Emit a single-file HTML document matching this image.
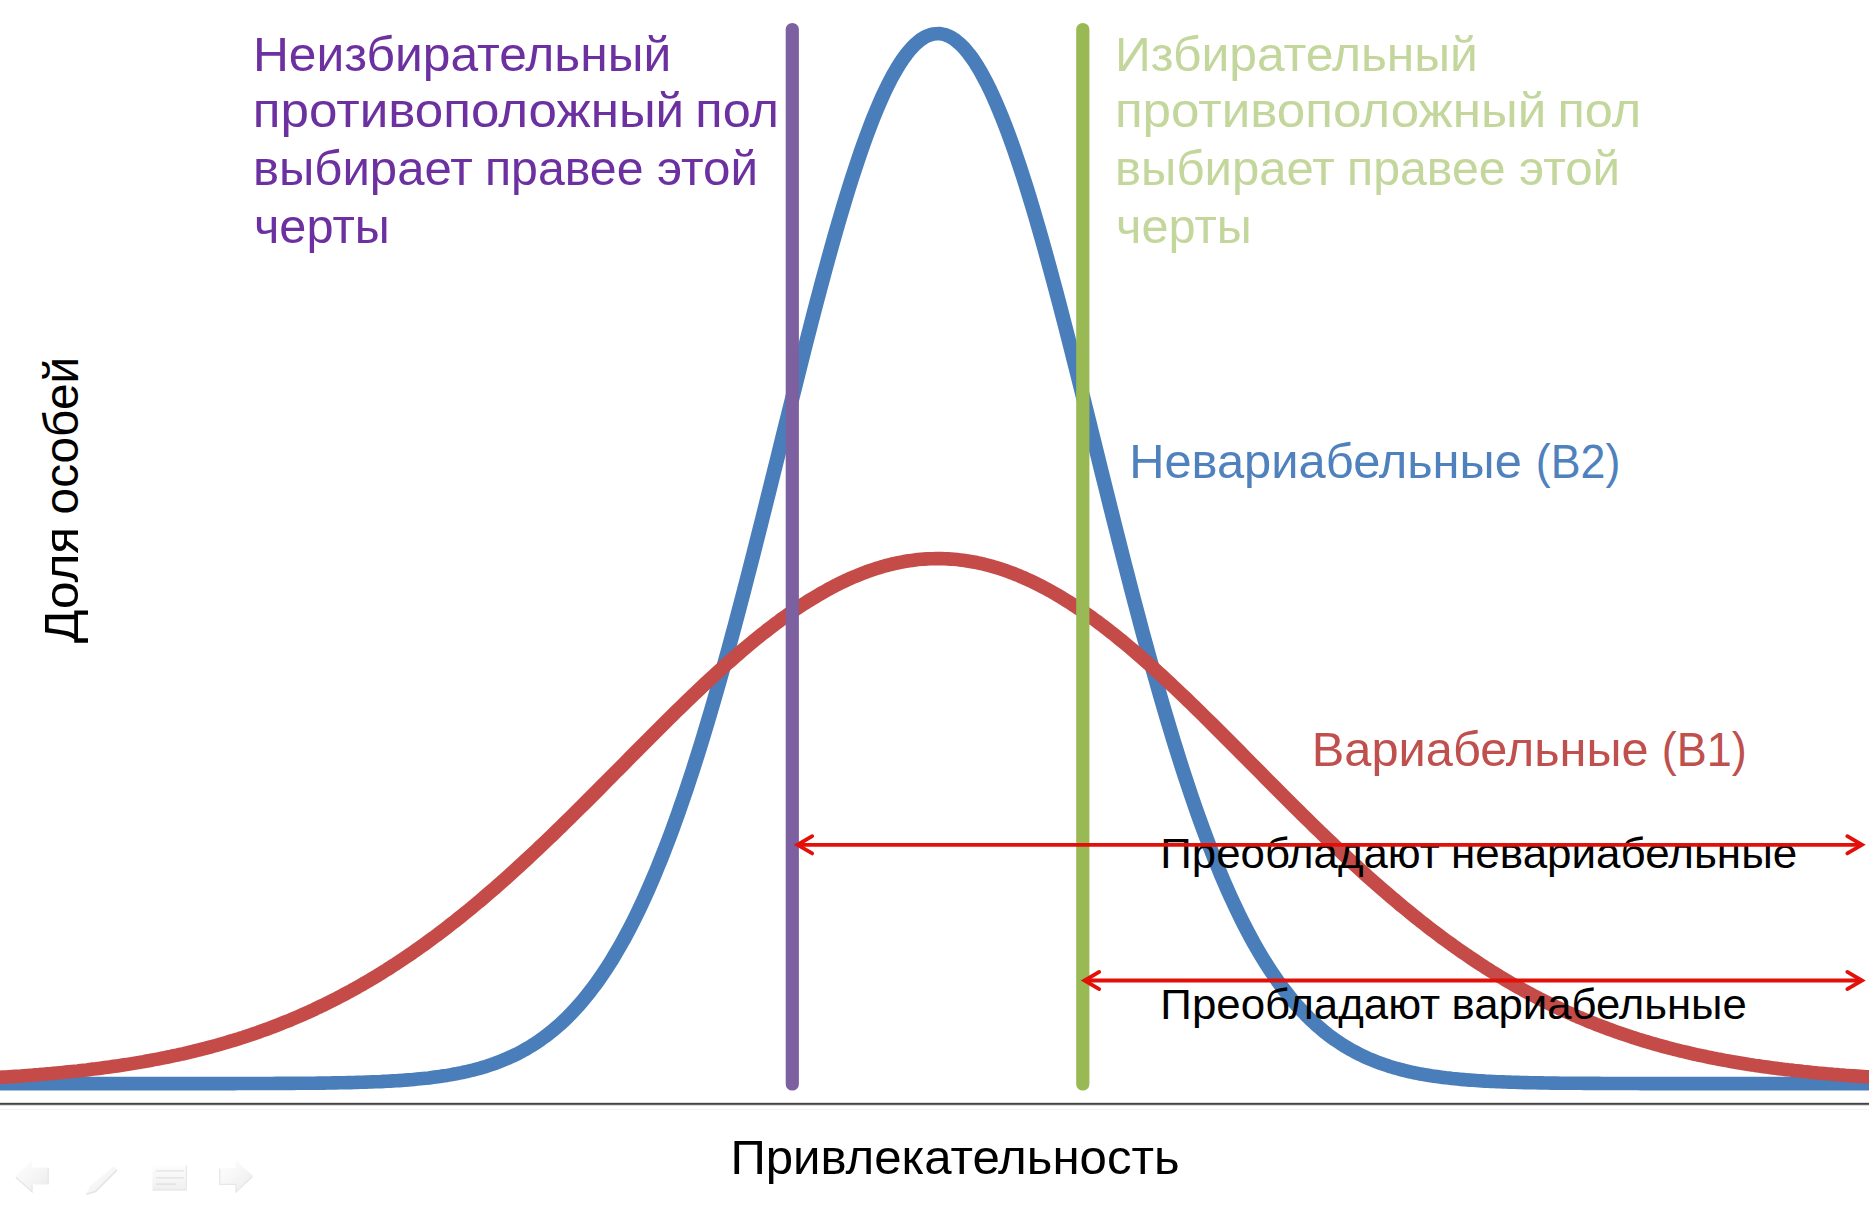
<!DOCTYPE html>
<html lang="ru"><head><meta charset="utf-8"><title>Привлекательность</title>
<style>html,body{margin:0;padding:0;background:#fff;overflow:hidden}svg{display:block}text{font-family:"Liberation Sans",sans-serif;white-space:pre}</style></head>
<body>
<svg width="1869" height="1215" viewBox="0 0 1869 1215">
<rect width="1869" height="1215" fill="#fff"/>
<rect x="0" y="1102.8" width="1869" height="2.1" fill="#454545"/>
<rect x="0" y="1104.9" width="1869" height="1" fill="#d8d8d8"/>
<rect x="0" y="1109" width="1869" height="1" fill="#f4f4f4"/>
<g transform="scale(1.07,1)" fill="none" stroke-width="13.6" stroke-linejoin="round">
<path d="M-14.02,1083.6 L-11.21,1083.6 L-8.41,1083.6 L-5.61,1083.6 L-2.80,1083.6 L0.00,1083.6 L2.80,1083.6 L5.61,1083.6 L8.41,1083.6 L11.21,1083.6 L14.02,1083.6 L16.82,1083.6 L19.63,1083.6 L22.43,1083.6 L25.23,1083.6 L28.04,1083.6 L30.84,1083.6 L33.64,1083.6 L36.45,1083.6 L39.25,1083.6 L42.06,1083.6 L44.86,1083.6 L47.66,1083.6 L50.47,1083.6 L53.27,1083.6 L56.07,1083.6 L58.88,1083.6 L61.68,1083.6 L64.49,1083.6 L67.29,1083.6 L70.09,1083.6 L72.90,1083.6 L75.70,1083.6 L78.50,1083.6 L81.31,1083.6 L84.11,1083.6 L86.92,1083.6 L89.72,1083.6 L92.52,1083.6 L95.33,1083.6 L98.13,1083.6 L100.93,1083.6 L103.74,1083.6 L106.54,1083.6 L109.35,1083.6 L112.15,1083.6 L114.95,1083.6 L117.76,1083.6 L120.56,1083.6 L123.36,1083.6 L126.17,1083.6 L128.97,1083.6 L131.78,1083.6 L134.58,1083.6 L137.38,1083.6 L140.19,1083.6 L142.99,1083.6 L145.79,1083.6 L148.60,1083.6 L151.40,1083.6 L154.21,1083.6 L157.01,1083.6 L159.81,1083.6 L162.62,1083.6 L165.42,1083.6 L168.22,1083.6 L171.03,1083.6 L173.83,1083.6 L176.64,1083.6 L179.44,1083.6 L182.24,1083.6 L185.05,1083.6 L187.85,1083.6 L190.65,1083.6 L193.46,1083.6 L196.26,1083.6 L199.07,1083.6 L201.87,1083.6 L204.67,1083.6 L207.48,1083.6 L210.28,1083.6 L213.08,1083.6 L215.89,1083.6 L218.69,1083.6 L221.50,1083.5 L224.30,1083.5 L227.10,1083.5 L229.91,1083.5 L232.71,1083.5 L235.51,1083.5 L238.32,1083.5 L241.12,1083.5 L243.93,1083.5 L246.73,1083.5 L249.53,1083.5 L252.34,1083.5 L255.14,1083.5 L257.94,1083.4 L260.75,1083.4 L263.55,1083.4 L266.36,1083.4 L269.16,1083.4 L271.96,1083.4 L274.77,1083.4 L277.57,1083.3 L280.37,1083.3 L283.18,1083.3 L285.98,1083.3 L288.79,1083.2 L291.59,1083.2 L294.39,1083.2 L297.20,1083.1 L300.00,1083.1 L302.80,1083.1 L305.61,1083.0 L308.41,1083.0 L311.21,1082.9 L314.02,1082.9 L316.82,1082.8 L319.63,1082.8 L322.43,1082.7 L325.23,1082.6 L328.04,1082.6 L330.84,1082.5 L333.64,1082.4 L336.45,1082.3 L339.25,1082.2 L342.06,1082.1 L344.86,1082.0 L347.66,1081.9 L350.47,1081.8 L353.27,1081.7 L356.07,1081.6 L358.88,1081.4 L361.68,1081.3 L364.49,1081.1 L367.29,1080.9 L370.09,1080.8 L372.90,1080.6 L375.70,1080.4 L378.50,1080.1 L381.31,1079.9 L384.11,1079.7 L386.92,1079.4 L389.72,1079.1 L392.52,1078.8 L395.33,1078.5 L398.13,1078.2 L400.93,1077.9 L403.74,1077.5 L406.54,1077.1 L409.35,1076.7 L412.15,1076.3 L414.95,1075.8 L417.76,1075.4 L420.56,1074.9 L423.36,1074.3 L426.17,1073.8 L428.97,1073.2 L431.78,1072.6 L434.58,1071.9 L437.38,1071.3 L440.19,1070.5 L442.99,1069.8 L445.79,1069.0 L448.60,1068.2 L451.40,1067.3 L454.21,1066.4 L457.01,1065.4 L459.81,1064.4 L462.62,1063.3 L465.42,1062.2 L468.22,1061.0 L471.03,1059.8 L473.83,1058.6 L476.64,1057.2 L479.44,1055.8 L482.24,1054.4 L485.05,1052.9 L487.85,1051.3 L490.65,1049.6 L493.46,1047.9 L496.26,1046.1 L499.07,1044.2 L501.87,1042.2 L504.67,1040.2 L507.48,1038.0 L510.28,1035.8 L513.08,1033.5 L515.89,1031.1 L518.69,1028.6 L521.50,1026.0 L524.30,1023.4 L527.10,1020.6 L529.91,1017.7 L532.71,1014.7 L535.51,1011.5 L538.32,1008.3 L541.12,1005.0 L543.93,1001.5 L546.73,997.9 L549.53,994.2 L552.34,990.3 L555.14,986.4 L557.94,982.3 L560.75,978.0 L563.55,973.6 L566.36,969.1 L569.16,964.5 L571.96,959.7 L574.77,954.7 L577.57,949.6 L580.37,944.4 L583.18,939.0 L585.98,933.4 L588.79,927.7 L591.59,921.8 L594.39,915.8 L597.20,909.6 L600.00,903.2 L602.80,896.7 L605.61,890.0 L608.41,883.1 L611.21,876.1 L614.02,868.9 L616.82,861.5 L619.63,854.0 L622.43,846.3 L625.23,838.4 L628.04,830.4 L630.84,822.1 L633.64,813.8 L636.45,805.2 L639.25,796.5 L642.06,787.6 L644.86,778.6 L647.66,769.4 L650.47,760.0 L653.27,750.5 L656.07,740.8 L658.88,730.9 L661.68,720.9 L664.49,710.8 L667.29,700.5 L670.09,690.1 L672.90,679.5 L675.70,668.8 L678.50,658.0 L681.31,647.1 L684.11,636.0 L686.92,624.8 L689.72,613.5 L692.52,602.1 L695.33,590.6 L698.13,579.0 L700.93,567.4 L703.74,555.6 L706.54,543.8 L709.35,531.9 L712.15,520.0 L714.95,508.0 L717.76,495.9 L720.56,483.9 L723.36,471.8 L726.17,459.7 L728.97,447.6 L731.78,435.4 L734.58,423.3 L737.38,411.2 L740.19,399.2 L742.99,387.1 L745.79,375.1 L748.60,363.2 L751.40,351.3 L754.21,339.5 L757.01,327.8 L759.81,316.2 L762.62,304.7 L765.42,293.3 L768.22,282.0 L771.03,270.9 L773.83,259.9 L776.64,249.0 L779.44,238.3 L782.24,227.8 L785.05,217.5 L787.85,207.4 L790.65,197.4 L793.46,187.7 L796.26,178.2 L799.07,169.0 L801.87,159.9 L804.67,151.2 L807.48,142.6 L810.28,134.4 L813.08,126.4 L815.89,118.7 L818.69,111.3 L821.50,104.2 L824.30,97.4 L827.10,90.9 L829.91,84.7 L832.71,78.9 L835.51,73.4 L838.32,68.2 L841.12,63.4 L843.93,58.9 L846.73,54.8 L849.53,51.0 L852.34,47.6 L855.14,44.5 L857.94,41.9 L860.75,39.5 L863.55,37.6 L866.36,36.1 L869.16,34.9 L871.96,34.1 L874.77,33.7 L877.57,33.6 L880.37,34.0 L883.18,34.7 L885.98,35.8 L888.79,37.3 L891.59,39.1 L894.39,41.4 L897.20,44.0 L900.00,46.9 L902.80,50.3 L905.61,54.0 L908.41,58.0 L911.21,62.4 L914.02,67.2 L916.82,72.3 L919.63,77.8 L922.43,83.5 L925.23,89.6 L928.04,96.1 L930.84,102.8 L933.64,109.9 L936.45,117.2 L939.25,124.8 L942.06,132.8 L944.86,141.0 L947.66,149.4 L950.47,158.2 L953.27,167.1 L956.07,176.4 L958.88,185.8 L961.68,195.5 L964.49,205.4 L967.29,215.5 L970.09,225.7 L972.90,236.2 L975.70,246.9 L978.50,257.7 L981.31,268.7 L984.11,279.8 L986.92,291.0 L989.72,302.4 L992.52,313.9 L995.33,325.5 L998.13,337.2 L1000.93,349.0 L1003.74,360.8 L1006.54,372.7 L1009.35,384.7 L1012.15,396.7 L1014.95,408.8 L1017.76,420.9 L1020.56,433.0 L1023.36,445.1 L1026.17,457.2 L1028.97,469.4 L1031.78,481.5 L1034.58,493.5 L1037.38,505.6 L1040.19,517.6 L1042.99,529.5 L1045.79,541.4 L1048.60,553.3 L1051.40,565.0 L1054.21,576.7 L1057.01,588.3 L1059.81,599.8 L1062.62,611.2 L1065.42,622.5 L1068.22,633.8 L1071.03,644.8 L1073.83,655.8 L1076.64,666.7 L1079.44,677.4 L1082.24,688.0 L1085.05,698.4 L1087.85,708.7 L1090.65,718.9 L1093.46,728.9 L1096.26,738.8 L1099.07,748.5 L1101.87,758.1 L1104.67,767.5 L1107.48,776.7 L1110.28,785.8 L1113.08,794.7 L1115.89,803.5 L1118.69,812.1 L1121.50,820.5 L1124.30,828.7 L1127.10,836.8 L1129.91,844.7 L1132.71,852.5 L1135.51,860.0 L1138.32,867.4 L1141.12,874.7 L1143.93,881.7 L1146.73,888.6 L1149.53,895.3 L1152.34,901.9 L1155.14,908.3 L1157.94,914.5 L1160.75,920.6 L1163.55,926.5 L1166.36,932.3 L1169.16,937.9 L1171.96,943.3 L1174.77,948.6 L1177.57,953.7 L1180.37,958.7 L1183.18,963.5 L1185.98,968.2 L1188.79,972.8 L1191.59,977.2 L1194.39,981.4 L1197.20,985.6 L1200.00,989.6 L1202.80,993.4 L1205.61,997.2 L1208.41,1000.8 L1211.21,1004.3 L1214.02,1007.6 L1216.82,1010.9 L1219.63,1014.0 L1222.43,1017.1 L1225.23,1020.0 L1228.04,1022.8 L1230.84,1025.5 L1233.64,1028.1 L1236.45,1030.6 L1239.25,1033.1 L1242.06,1035.4 L1244.86,1037.6 L1247.66,1039.8 L1250.47,1041.8 L1253.27,1043.8 L1256.07,1045.7 L1258.88,1047.5 L1261.68,1049.3 L1264.49,1050.9 L1267.29,1052.5 L1270.09,1054.1 L1272.90,1055.5 L1275.70,1057.0 L1278.50,1058.3 L1281.31,1059.6 L1284.11,1060.8 L1286.92,1062.0 L1289.72,1063.1 L1292.52,1064.2 L1295.33,1065.2 L1298.13,1066.2 L1300.93,1067.1 L1303.74,1068.0 L1306.54,1068.8 L1309.35,1069.6 L1312.15,1070.4 L1314.95,1071.1 L1317.76,1071.8 L1320.56,1072.5 L1323.36,1073.1 L1326.17,1073.7 L1328.97,1074.2 L1331.78,1074.8 L1334.58,1075.3 L1337.38,1075.8 L1340.19,1076.2 L1342.99,1076.6 L1345.79,1077.0 L1348.60,1077.4 L1351.40,1077.8 L1354.21,1078.1 L1357.01,1078.5 L1359.81,1078.8 L1362.62,1079.1 L1365.42,1079.4 L1368.22,1079.6 L1371.03,1079.9 L1373.83,1080.1 L1376.64,1080.3 L1379.44,1080.5 L1382.24,1080.7 L1385.05,1080.9 L1387.85,1081.1 L1390.65,1081.2 L1393.46,1081.4 L1396.26,1081.5 L1399.07,1081.7 L1401.87,1081.8 L1404.67,1081.9 L1407.48,1082.0 L1410.28,1082.1 L1413.08,1082.2 L1415.89,1082.3 L1418.69,1082.4 L1421.50,1082.5 L1424.30,1082.6 L1427.10,1082.6 L1429.91,1082.7 L1432.71,1082.8 L1435.51,1082.8 L1438.32,1082.9 L1441.12,1082.9 L1443.93,1083.0 L1446.73,1083.0 L1449.53,1083.1 L1452.34,1083.1 L1455.14,1083.1 L1457.94,1083.2 L1460.75,1083.2 L1463.55,1083.2 L1466.36,1083.3 L1469.16,1083.3 L1471.96,1083.3 L1474.77,1083.3 L1477.57,1083.3 L1480.37,1083.4 L1483.18,1083.4 L1485.98,1083.4 L1488.79,1083.4 L1491.59,1083.4 L1494.39,1083.4 L1497.20,1083.5 L1500.00,1083.5 L1502.80,1083.5 L1505.61,1083.5 L1508.41,1083.5 L1511.21,1083.5 L1514.02,1083.5 L1516.82,1083.5 L1519.63,1083.5 L1522.43,1083.5 L1525.23,1083.5 L1528.04,1083.5 L1530.84,1083.5 L1533.64,1083.6 L1536.45,1083.6 L1539.25,1083.6 L1542.06,1083.6 L1544.86,1083.6 L1547.66,1083.6 L1550.47,1083.6 L1553.27,1083.6 L1556.07,1083.6 L1558.88,1083.6 L1561.68,1083.6 L1564.49,1083.6 L1567.29,1083.6 L1570.09,1083.6 L1572.90,1083.6 L1575.70,1083.6 L1578.50,1083.6 L1581.31,1083.6 L1584.11,1083.6 L1586.92,1083.6 L1589.72,1083.6 L1592.52,1083.6 L1595.33,1083.6 L1598.13,1083.6 L1600.93,1083.6 L1603.74,1083.6 L1606.54,1083.6 L1609.35,1083.6 L1612.15,1083.6 L1614.95,1083.6 L1617.76,1083.6 L1620.56,1083.6 L1623.36,1083.6 L1626.17,1083.6 L1628.97,1083.6 L1631.78,1083.6 L1634.58,1083.6 L1637.38,1083.6 L1640.19,1083.6 L1642.99,1083.6 L1645.79,1083.6 L1648.60,1083.6 L1651.40,1083.6 L1654.21,1083.6 L1657.01,1083.6 L1659.81,1083.6 L1662.62,1083.6 L1665.42,1083.6 L1668.22,1083.6 L1671.03,1083.6 L1673.83,1083.6 L1676.64,1083.6 L1679.44,1083.6 L1682.24,1083.6 L1685.05,1083.6 L1687.85,1083.6 L1690.65,1083.6 L1693.46,1083.6 L1696.26,1083.6 L1699.07,1083.6 L1701.87,1083.6 L1704.67,1083.6 L1707.48,1083.6 L1710.28,1083.6 L1713.08,1083.6 L1715.89,1083.6 L1718.69,1083.6 L1721.50,1083.6 L1724.30,1083.6 L1727.10,1083.6 L1729.91,1083.6 L1732.71,1083.6 L1735.51,1083.6 L1738.32,1083.6 L1741.12,1083.6 L1743.93,1083.6 L1746.73,1083.6 L1749.53,1083.6 L1752.34,1083.6 L1755.14,1083.6 L1757.94,1083.6 L1760.75,1083.6" stroke="#4A7EBB"/>
<path d="M-14.02,1078.2 L-11.21,1078.0 L-8.41,1077.8 L-5.61,1077.7 L-2.80,1077.5 L0.00,1077.3 L2.80,1077.1 L5.61,1077.0 L8.41,1076.8 L11.21,1076.6 L14.02,1076.4 L16.82,1076.2 L19.63,1076.0 L22.43,1075.7 L25.23,1075.5 L28.04,1075.3 L30.84,1075.1 L33.64,1074.8 L36.45,1074.6 L39.25,1074.3 L42.06,1074.1 L44.86,1073.8 L47.66,1073.6 L50.47,1073.3 L53.27,1073.0 L56.07,1072.7 L58.88,1072.4 L61.68,1072.1 L64.49,1071.8 L67.29,1071.5 L70.09,1071.2 L72.90,1070.9 L75.70,1070.5 L78.50,1070.2 L81.31,1069.9 L84.11,1069.5 L86.92,1069.1 L89.72,1068.8 L92.52,1068.4 L95.33,1068.0 L98.13,1067.6 L100.93,1067.2 L103.74,1066.8 L106.54,1066.3 L109.35,1065.9 L112.15,1065.5 L114.95,1065.0 L117.76,1064.6 L120.56,1064.1 L123.36,1063.6 L126.17,1063.1 L128.97,1062.6 L131.78,1062.1 L134.58,1061.6 L137.38,1061.0 L140.19,1060.5 L142.99,1059.9 L145.79,1059.4 L148.60,1058.8 L151.40,1058.2 L154.21,1057.6 L157.01,1057.0 L159.81,1056.4 L162.62,1055.7 L165.42,1055.1 L168.22,1054.4 L171.03,1053.8 L173.83,1053.1 L176.64,1052.4 L179.44,1051.7 L182.24,1050.9 L185.05,1050.2 L187.85,1049.4 L190.65,1048.7 L193.46,1047.9 L196.26,1047.1 L199.07,1046.3 L201.87,1045.5 L204.67,1044.6 L207.48,1043.8 L210.28,1042.9 L213.08,1042.0 L215.89,1041.1 L218.69,1040.2 L221.50,1039.3 L224.30,1038.3 L227.10,1037.4 L229.91,1036.4 L232.71,1035.4 L235.51,1034.4 L238.32,1033.3 L241.12,1032.3 L243.93,1031.2 L246.73,1030.2 L249.53,1029.1 L252.34,1028.0 L255.14,1026.8 L257.94,1025.7 L260.75,1024.5 L263.55,1023.3 L266.36,1022.1 L269.16,1020.9 L271.96,1019.7 L274.77,1018.4 L277.57,1017.1 L280.37,1015.8 L283.18,1014.5 L285.98,1013.2 L288.79,1011.8 L291.59,1010.5 L294.39,1009.1 L297.20,1007.6 L300.00,1006.2 L302.80,1004.8 L305.61,1003.3 L308.41,1001.8 L311.21,1000.3 L314.02,998.8 L316.82,997.2 L319.63,995.6 L322.43,994.0 L325.23,992.4 L328.04,990.8 L330.84,989.1 L333.64,987.5 L336.45,985.8 L339.25,984.1 L342.06,982.3 L344.86,980.6 L347.66,978.8 L350.47,977.0 L353.27,975.2 L356.07,973.3 L358.88,971.4 L361.68,969.6 L364.49,967.6 L367.29,965.7 L370.09,963.8 L372.90,961.8 L375.70,959.8 L378.50,957.8 L381.31,955.8 L384.11,953.7 L386.92,951.6 L389.72,949.5 L392.52,947.4 L395.33,945.3 L398.13,943.1 L400.93,940.9 L403.74,938.7 L406.54,936.5 L409.35,934.3 L412.15,932.0 L414.95,929.7 L417.76,927.4 L420.56,925.1 L423.36,922.7 L426.17,920.4 L428.97,918.0 L431.78,915.6 L434.58,913.2 L437.38,910.7 L440.19,908.3 L442.99,905.8 L445.79,903.3 L448.60,900.8 L451.40,898.2 L454.21,895.7 L457.01,893.1 L459.81,890.5 L462.62,887.9 L465.42,885.3 L468.22,882.6 L471.03,880.0 L473.83,877.3 L476.64,874.6 L479.44,871.9 L482.24,869.2 L485.05,866.4 L487.85,863.7 L490.65,860.9 L493.46,858.1 L496.26,855.3 L499.07,852.5 L501.87,849.7 L504.67,846.8 L507.48,844.0 L510.28,841.1 L513.08,838.3 L515.89,835.4 L518.69,832.5 L521.50,829.6 L524.30,826.7 L527.10,823.7 L529.91,820.8 L532.71,817.8 L535.51,814.9 L538.32,811.9 L541.12,808.9 L543.93,806.0 L546.73,803.0 L549.53,800.0 L552.34,797.0 L555.14,794.0 L557.94,791.0 L560.75,788.0 L563.55,784.9 L566.36,781.9 L569.16,778.9 L571.96,775.9 L574.77,772.8 L577.57,769.8 L580.37,766.8 L583.18,763.8 L585.98,760.7 L588.79,757.7 L591.59,754.7 L594.39,751.6 L597.20,748.6 L600.00,745.6 L602.80,742.6 L605.61,739.6 L608.41,736.6 L611.21,733.6 L614.02,730.6 L616.82,727.6 L619.63,724.6 L622.43,721.6 L625.23,718.6 L628.04,715.7 L630.84,712.7 L633.64,709.8 L636.45,706.9 L639.25,704.0 L642.06,701.1 L644.86,698.2 L647.66,695.3 L650.47,692.4 L653.27,689.6 L656.07,686.7 L658.88,683.9 L661.68,681.1 L664.49,678.3 L667.29,675.6 L670.09,672.8 L672.90,670.1 L675.70,667.4 L678.50,664.7 L681.31,662.0 L684.11,659.4 L686.92,656.8 L689.72,654.2 L692.52,651.6 L695.33,649.0 L698.13,646.5 L700.93,644.0 L703.74,641.5 L706.54,639.0 L709.35,636.6 L712.15,634.2 L714.95,631.9 L717.76,629.5 L720.56,627.2 L723.36,624.9 L726.17,622.7 L728.97,620.4 L731.78,618.2 L734.58,616.1 L737.38,614.0 L740.19,611.9 L742.99,609.8 L745.79,607.8 L748.60,605.8 L751.40,603.8 L754.21,601.9 L757.01,600.0 L759.81,598.2 L762.62,596.4 L765.42,594.6 L768.22,592.9 L771.03,591.2 L773.83,589.5 L776.64,587.9 L779.44,586.3 L782.24,584.8 L785.05,583.3 L787.85,581.8 L790.65,580.4 L793.46,579.0 L796.26,577.7 L799.07,576.4 L801.87,575.2 L804.67,574.0 L807.48,572.8 L810.28,571.7 L813.08,570.6 L815.89,569.6 L818.69,568.6 L821.50,567.7 L824.30,566.8 L827.10,565.9 L829.91,565.1 L832.71,564.4 L835.51,563.6 L838.32,563.0 L841.12,562.4 L843.93,561.8 L846.73,561.3 L849.53,560.8 L852.34,560.4 L855.14,560.0 L857.94,559.6 L860.75,559.3 L863.55,559.1 L866.36,558.9 L869.16,558.8 L871.96,558.7 L874.77,558.6 L877.57,558.6 L880.37,558.6 L883.18,558.7 L885.98,558.9 L888.79,559.1 L891.59,559.3 L894.39,559.6 L897.20,559.9 L900.00,560.3 L902.80,560.7 L905.61,561.2 L908.41,561.7 L911.21,562.2 L914.02,562.9 L916.82,563.5 L919.63,564.2 L922.43,565.0 L925.23,565.8 L928.04,566.6 L930.84,567.5 L933.64,568.4 L936.45,569.4 L939.25,570.4 L942.06,571.5 L944.86,572.6 L947.66,573.7 L950.47,574.9 L953.27,576.2 L956.07,577.4 L958.88,578.8 L961.68,580.1 L964.49,581.5 L967.29,583.0 L970.09,584.5 L972.90,586.0 L975.70,587.6 L978.50,589.2 L981.31,590.8 L984.11,592.5 L986.92,594.2 L989.72,596.0 L992.52,597.8 L995.33,599.7 L998.13,601.5 L1000.93,603.4 L1003.74,605.4 L1006.54,607.4 L1009.35,609.4 L1012.15,611.5 L1014.95,613.5 L1017.76,615.7 L1020.56,617.8 L1023.36,620.0 L1026.17,622.2 L1028.97,624.5 L1031.78,626.7 L1034.58,629.0 L1037.38,631.4 L1040.19,633.7 L1042.99,636.1 L1045.79,638.6 L1048.60,641.0 L1051.40,643.5 L1054.21,646.0 L1057.01,648.5 L1059.81,651.1 L1062.62,653.6 L1065.42,656.2 L1068.22,658.9 L1071.03,661.5 L1073.83,664.2 L1076.64,666.8 L1079.44,669.6 L1082.24,672.3 L1085.05,675.0 L1087.85,677.8 L1090.65,680.6 L1093.46,683.4 L1096.26,686.2 L1099.07,689.0 L1101.87,691.9 L1104.67,694.7 L1107.48,697.6 L1110.28,700.5 L1113.08,703.4 L1115.89,706.3 L1118.69,709.2 L1121.50,712.2 L1124.30,715.1 L1127.10,718.1 L1129.91,721.0 L1132.71,724.0 L1135.51,727.0 L1138.32,730.0 L1141.12,733.0 L1143.93,736.0 L1146.73,739.0 L1149.53,742.0 L1152.34,745.0 L1155.14,748.0 L1157.94,751.0 L1160.75,754.1 L1163.55,757.1 L1166.36,760.1 L1169.16,763.2 L1171.96,766.2 L1174.77,769.2 L1177.57,772.2 L1180.37,775.3 L1183.18,778.3 L1185.98,781.3 L1188.79,784.3 L1191.59,787.4 L1194.39,790.4 L1197.20,793.4 L1200.00,796.4 L1202.80,799.4 L1205.61,802.4 L1208.41,805.4 L1211.21,808.4 L1214.02,811.3 L1216.82,814.3 L1219.63,817.2 L1222.43,820.2 L1225.23,823.1 L1228.04,826.1 L1230.84,829.0 L1233.64,831.9 L1236.45,834.8 L1239.25,837.7 L1242.06,840.6 L1244.86,843.4 L1247.66,846.3 L1250.47,849.1 L1253.27,851.9 L1256.07,854.8 L1258.88,857.6 L1261.68,860.3 L1264.49,863.1 L1267.29,865.9 L1270.09,868.6 L1272.90,871.3 L1275.70,874.1 L1278.50,876.8 L1281.31,879.4 L1284.11,882.1 L1286.92,884.7 L1289.72,887.4 L1292.52,890.0 L1295.33,892.6 L1298.13,895.1 L1300.93,897.7 L1303.74,900.2 L1306.54,902.8 L1309.35,905.3 L1312.15,907.8 L1314.95,910.2 L1317.76,912.7 L1320.56,915.1 L1323.36,917.5 L1326.17,919.9 L1328.97,922.3 L1331.78,924.6 L1334.58,926.9 L1337.38,929.3 L1340.19,931.5 L1342.99,933.8 L1345.79,936.1 L1348.60,938.3 L1351.40,940.5 L1354.21,942.7 L1357.01,944.8 L1359.81,947.0 L1362.62,949.1 L1365.42,951.2 L1368.22,953.3 L1371.03,955.3 L1373.83,957.4 L1376.64,959.4 L1379.44,961.4 L1382.24,963.4 L1385.05,965.3 L1387.85,967.3 L1390.65,969.2 L1393.46,971.1 L1396.26,972.9 L1399.07,974.8 L1401.87,976.6 L1404.67,978.4 L1407.48,980.2 L1410.28,982.0 L1413.08,983.7 L1415.89,985.4 L1418.69,987.1 L1421.50,988.8 L1424.30,990.5 L1427.10,992.1 L1429.91,993.7 L1432.71,995.3 L1435.51,996.9 L1438.32,998.5 L1441.12,1000.0 L1443.93,1001.5 L1446.73,1003.0 L1449.53,1004.5 L1452.34,1005.9 L1455.14,1007.4 L1457.94,1008.8 L1460.75,1010.2 L1463.55,1011.6 L1466.36,1012.9 L1469.16,1014.2 L1471.96,1015.6 L1474.77,1016.9 L1477.57,1018.1 L1480.37,1019.4 L1483.18,1020.7 L1485.98,1021.9 L1488.79,1023.1 L1491.59,1024.3 L1494.39,1025.4 L1497.20,1026.6 L1500.00,1027.7 L1502.80,1028.8 L1505.61,1029.9 L1508.41,1031.0 L1511.21,1032.1 L1514.02,1033.1 L1516.82,1034.2 L1519.63,1035.2 L1522.43,1036.2 L1525.23,1037.2 L1528.04,1038.1 L1530.84,1039.1 L1533.64,1040.0 L1536.45,1040.9 L1539.25,1041.8 L1542.06,1042.7 L1544.86,1043.6 L1547.66,1044.4 L1550.47,1045.3 L1553.27,1046.1 L1556.07,1046.9 L1558.88,1047.7 L1561.68,1048.5 L1564.49,1049.3 L1567.29,1050.0 L1570.09,1050.8 L1572.90,1051.5 L1575.70,1052.2 L1578.50,1052.9 L1581.31,1053.6 L1584.11,1054.3 L1586.92,1055.0 L1589.72,1055.6 L1592.52,1056.2 L1595.33,1056.9 L1598.13,1057.5 L1600.93,1058.1 L1603.74,1058.7 L1606.54,1059.3 L1609.35,1059.8 L1612.15,1060.4 L1614.95,1060.9 L1617.76,1061.5 L1620.56,1062.0 L1623.36,1062.5 L1626.17,1063.0 L1628.97,1063.5 L1631.78,1064.0 L1634.58,1064.5 L1637.38,1064.9 L1640.19,1065.4 L1642.99,1065.8 L1645.79,1066.3 L1648.60,1066.7 L1651.40,1067.1 L1654.21,1067.5 L1657.01,1067.9 L1659.81,1068.3 L1662.62,1068.7 L1665.42,1069.1 L1668.22,1069.4 L1671.03,1069.8 L1673.83,1070.1 L1676.64,1070.5 L1679.44,1070.8 L1682.24,1071.1 L1685.05,1071.5 L1687.85,1071.8 L1690.65,1072.1 L1693.46,1072.4 L1696.26,1072.7 L1699.07,1073.0 L1701.87,1073.2 L1704.67,1073.5 L1707.48,1073.8 L1710.28,1074.0 L1713.08,1074.3 L1715.89,1074.5 L1718.69,1074.8 L1721.50,1075.0 L1724.30,1075.3 L1727.10,1075.5 L1729.91,1075.7 L1732.71,1075.9 L1735.51,1076.1 L1738.32,1076.3 L1741.12,1076.5 L1743.93,1076.7 L1746.73,1076.9 L1749.53,1077.1 L1752.34,1077.3 L1755.14,1077.5 L1757.94,1077.6 L1760.75,1077.8" stroke="#C44B47"/>
</g>
<line x1="792.3" y1="29.5" x2="792.3" y2="1084" stroke="#7D60A0" stroke-width="13.2" stroke-linecap="round"/>
<line x1="1082.8" y1="29.5" x2="1082.8" y2="1084" stroke="#98B954" stroke-width="13.2" stroke-linecap="round"/>
<text transform="translate(252.89,70.5) scale(1.0368,1)" font-size="48" fill="#6C30A0">Неизбирательный</text>
<text transform="translate(252.80,127.4) scale(1.0653,1)" font-size="48" fill="#6C30A0">противоположный</text>
<text transform="translate(695.35,127.4) scale(1.0512,1)" font-size="48" fill="#6C30A0">пол</text>
<text transform="translate(252.93,184.7) scale(1.0232,1)" font-size="48" fill="#6C30A0">выбирает</text>
<text transform="translate(484.99,184.7) scale(1.0050,1)" font-size="48" fill="#6C30A0">правее</text>
<text transform="translate(656.97,184.7) scale(1.0277,1)" font-size="48" fill="#6C30A0">этой</text>
<text transform="translate(253.97,242.8) scale(1.0145,1)" font-size="48" fill="#6C30A0">черты</text>
<text transform="translate(1114.99,70.5) scale(1.0372,1)" font-size="48" fill="#C3D69B">Избирательный</text>
<text transform="translate(1114.90,127.4) scale(1.0653,1)" font-size="48" fill="#C3D69B">противоположный</text>
<text transform="translate(1557.45,127.4) scale(1.0512,1)" font-size="48" fill="#C3D69B">пол</text>
<text transform="translate(1115.03,184.7) scale(1.0232,1)" font-size="48" fill="#C3D69B">выбирает</text>
<text transform="translate(1347.09,184.7) scale(1.0050,1)" font-size="48" fill="#C3D69B">правее</text>
<text transform="translate(1519.07,184.7) scale(1.0277,1)" font-size="48" fill="#C3D69B">этой</text>
<text transform="translate(1116.07,242.8) scale(1.0145,1)" font-size="48" fill="#C3D69B">черты</text>
<text transform="translate(1129.15,478.4) scale(1.0178,1)" font-size="48" fill="#4F81BD">Невариабельные</text>
<text transform="translate(1535.73,478.4) scale(0.9332,1)" font-size="48" fill="#4F81BD">(В2)</text>
<text transform="translate(1311.85,765.5) scale(1.0156,1)" font-size="48" fill="#C0504D">Вариабельные</text>
<text transform="translate(1661.82,765.5) scale(0.9378,1)" font-size="48" fill="#C0504D">(В1)</text>
<text transform="translate(1160.37,867.7) scale(1.0429,1)" font-size="42" fill="#000000">Преобладают</text>
<text transform="translate(1451.01,867.7) scale(1.0472,1)" font-size="42" fill="#000000">невариабельные</text>
<text transform="translate(1160.37,1019.4) scale(1.0444,1)" font-size="42" fill="#000000">Преобладают</text>
<text transform="translate(1451.52,1019.4) scale(1.0399,1)" font-size="42" fill="#000000">вариабельные</text>
<text transform="translate(730.43,1174) scale(1.0245,1)" font-size="48" fill="#000000">Привлекательность</text>
<text transform="translate(78.4,643.00) rotate(-90) scale(1.0301,1)" font-size="48" fill="#000">Доля</text>
<text transform="translate(78.4,514.39) rotate(-90) scale(0.9943,1)" font-size="48" fill="#000">особей</text>
<g fill="none" stroke="#E3100A" stroke-width="3.8" stroke-linecap="round" stroke-linejoin="miter"><line x1="797.5" y1="844.8" x2="1862.0" y2="844.8" stroke-linecap="butt"/><polyline points="812.2,836.2 797.5,844.8 812.2,853.4"/><polyline points="1847.3,836.2 1862.0,844.8 1847.3,853.4"/></g>
<g fill="none" stroke="#E3100A" stroke-width="3.8" stroke-linecap="round" stroke-linejoin="miter"><line x1="1084.5" y1="980.5" x2="1862.0" y2="980.5" stroke-linecap="butt"/><polyline points="1099.2,971.9 1084.5,980.5 1099.2,989.1"/><polyline points="1847.3,971.9 1862.0,980.5 1847.3,989.1"/></g>
<defs>
<linearGradient id="ig" x1="0" y1="0" x2="1" y2="1"><stop offset="0" stop-color="#ffffff"/><stop offset="0.45" stop-color="#f7f7f7"/><stop offset="1" stop-color="#ebebeb"/></linearGradient>
<linearGradient id="ih" x1="0" y1="0" x2="0" y2="1"><stop offset="0" stop-color="#fefefe"/><stop offset="1" stop-color="#efefef"/></linearGradient>
</defs>
<g>
<path d="M14.6,1176.2 L32,1160.4 L32,1167.4 L48.7,1167.4 L48.7,1184.4 L32,1184.4 L32,1191.7 Z" fill="url(#ig)"/>
<path d="M32,1185 L32,1191.7 L16,1177.5" fill="none" stroke="#e6e6e6" stroke-width="1.3"/>
<line x1="48.2" y1="1168" x2="48.2" y2="1184.2" stroke="#e8e8e8" stroke-width="1.4"/>
<path d="M85.6,1194.5 L90,1186 L113.5,1166.5 L117.3,1169.6 L95.5,1191.5 Z" fill="url(#ig)"/>
<path d="M86.5,1194.2 L95.5,1191.5 L117,1170" fill="none" stroke="#e4e4e4" stroke-width="1.5"/>
<rect x="152.4" y="1165" width="34.4" height="25.7" fill="url(#ih)"/>
<line x1="186.3" y1="1165.5" x2="186.3" y2="1190" stroke="#e8e8e8" stroke-width="1.3"/>
<line x1="156" y1="1170.9" x2="184" y2="1170.9" stroke="#ebebeb" stroke-width="2"/>
<line x1="156" y1="1177.8" x2="184" y2="1177.8" stroke="#e4e4e4" stroke-width="1.5"/>
<line x1="156" y1="1184.1" x2="176" y2="1184.1" stroke="#e2e2e2" stroke-width="1.5"/>
<line x1="153" y1="1189.6" x2="186" y2="1189.6" stroke="#e9e9e9" stroke-width="1.8"/>
<path d="M253.2,1175.8 L235.9,1160.4 L235.9,1168.1 L219.2,1168.1 L219.2,1184.4 L235.9,1184.4 L235.9,1192.4 Z" fill="url(#ig)"/>
<path d="M219.8,1168.5 L219.8,1184.4 L235.9,1184.4 L235.9,1192 L252.5,1176.5" fill="none" stroke="#e7e7e7" stroke-width="1.3"/>
</g>
</svg>
</body></html>
